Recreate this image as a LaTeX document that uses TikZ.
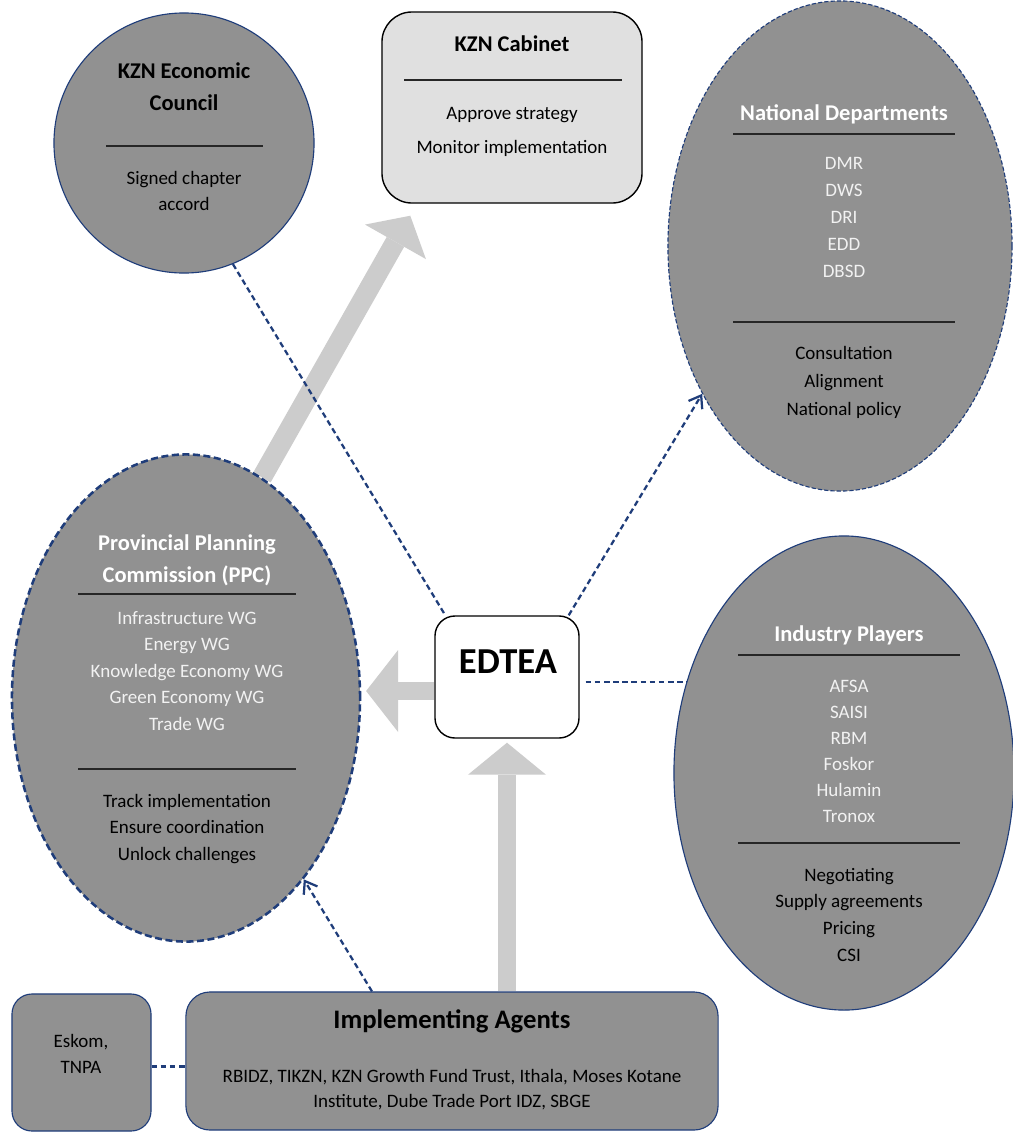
\documentclass[tikz,border=0pt]{standalone}
\usepackage{fontspec}
\setmainfont{Carlito}
\usetikzlibrary{shapes,arrows.meta,backgrounds}

\definecolor{navy}{HTML}{1F3D7A}
\definecolor{panel}{HTML}{919191}
\definecolor{pale}{HTML}{E0E0E0}
\definecolor{flowgray}{HTML}{CCCCCC}
\definecolor{ink}{HTML}{F2F2F2}

\begin{document}
\begin{tikzpicture} [x=0.025cm, y=-0.025cm,
				actor/.style={
				% The shape:
				ellipse,
				% The border:
				draw=navy, line width=0.8pt,
				% The filling:
				fill=panel, inner sep=0pt
				},
				lead/.style={
				% The shape:
				rectangle, rounded corners=0.5cm,
				% The border:
				draw=black, line width=1pt,
				% The filling:
				fill=white, inner sep=0pt
				},
				head/.style={anchor=mid, inner sep=0pt, yshift=-0.075cm, font=\bfseries\fontsize{16}{19}\selectfont},
				item/.style={anchor=mid, inner sep=0pt, yshift=-0.075cm, text=ink},
				role/.style={anchor=mid, inner sep=0pt, yshift=-0.075cm, text=black},
				rule/.style={line width=1.1pt, draw=black!85},
				link/.style={draw=navy, line width=1.6pt, dash pattern=on 4pt off 2.5pt},
				flow/.style={draw=flowgray, line width=0.45cm,
					-{Triangle[width=1.95cm, length=0.8cm, line width=0pt]}},
				>={Straight Barb[length=0.28cm, width=0.4cm]}
				]
    \tikzstyle{every node} = [font=\fontsize{13.5}{16}\selectfont]
    \useasboundingbox (0,0) rectangle (1013,1133);

    % the bodies
    \node [actor, circle, minimum size=6.5cm] (council) at (184,143) {};
    \node [lead, fill=pale, rounded corners=0.75cm, minimum width=6.5cm, minimum height=4.775cm] (cabinet) at (512,107.5) {};
    \node [actor, dash pattern=on 3pt off 1.5pt, minimum width=8.6cm, minimum height=12.25cm] (natdep) at (840,246) {};
    \node [actor, line width=1.8pt, dash pattern=on 5pt off 2.5pt, minimum width=8.7cm, minimum height=12.175cm] (ppc) at (186,698) {};
    \node [actor, minimum width=8.5cm, minimum height=11.85cm] (industry) at (844,773) {};
    \node [lead, minimum width=3.6cm, minimum height=3.05cm] (edtea) at (507,677) {};
    \node [actor, rectangle, rounded corners=0.6cm, minimum width=13.3cm, minimum height=3.45cm] (agents) at (452,1061) {};
    \node [actor, rectangle, rounded corners=0.5cm, minimum width=3.475cm, minimum height=3.425cm] (eskom) at (81.5,1062.5) {};

    % KZN Economic Council
    \node [head] (councilA) at (184,72) {KZN Economic};
    \node [head] (councilB) at (184,104) {Council};
    \draw [rule] (106,146) -- (263,146);
    \node [role] (councilC) at (184,178) {Signed chapter};
    \node [role] (councilD) at (184,204) {accord};

    % KZN Cabinet
    \node [head] (cabinetA) at (512,45) {KZN Cabinet};
    \draw [rule] (404,80) -- (622,80);
    \node [role] (cabinetB) at (512,113) {Approve strategy};
    \node [role] (cabinetC) at (512,147) {Monitor implementation};

    % National Departments
    \node [head, text=white] (natdepA) at (844,114) {National Departments};
    \draw [rule] (733,134) -- (955,134);
    \foreach \txt [count=\i] in {DMR,DWS,DRI,EDD,DBSD}
        \node [item] (natdep\i) at (844,136+27*\i) {\txt};
    \draw [rule] (733,322) -- (955,322);
    \foreach \txt [count=\i] in {Consultation,Alignment,National policy}
        \node [role] (natdepR\i) at (844,325+28*\i) {\txt};

    % Provincial Planning Commission
    \node [head, text=white] (ppcA) at (187,544) {Provincial Planning};
    \node [head, text=white] (ppcB) at (187,576) {Commission (PPC)};
    \draw [rule] (78,594) -- (296,594);
    \foreach \txt [count=\i] in {Infrastructure WG,Energy WG,Knowledge Economy WG,Green Economy WG,Trade WG}
        \node [item] (ppc\i) at (187,591.5+26.5*\i) {\txt};
    \draw [rule] (78,769) -- (296,769);
    \foreach \txt [count=\i] in {Track implementation,Ensure coordination,Unlock challenges}
        \node [role] (ppcR\i) at (187,774.5+26.5*\i) {\txt};

    % Industry Players
    \node [head, text=white] (industryA) at (849,635) {Industry Players};
    \draw [rule] (738,655) -- (960,655);
    \foreach \txt [count=\i] in {AFSA,SAISI,RBM,Foskor,Hulamin,Tronox}
        \node [item] (industry\i) at (849,660+26*\i) {\txt};
    \draw [rule] (738,843) -- (960,843);
    \foreach \txt [count=\i] in {Negotiating,Supply agreements,Pricing,CSI}
        \node [role] (industryR\i) at (849,848+26.7*\i) {\txt};

    % EDTEA and the agents
    \node [head, font=\bfseries\fontsize{26}{30}\selectfont] (edteaA) at (508,667) {EDTEA};
    \node [head, font=\bfseries\fontsize{19}{22}\selectfont] (agentsA) at (452,1022) {Implementing Agents};
    \node [role] (agentsB) at (452,1076) {RBIDZ, TIKZN, KZN Growth Fund Trust, Ithala, Moses Kotane};
    \node [role] (agentsC) at (452,1101) {Institute, Dube Trade Port IDZ, SBGE};
    \node [role] (eskomA) at (81,1041) {Eskom,};
    \node [role] (eskomB) at (81,1067) {TNPA};

    % dashed links
    \draw [link] (council.-68) -- (edtea.135);
    \draw [link, ->] (edtea.45) -- (natdep.227);
    \draw [link, shorten <=0.15cm] (edtea.east |- industry.150) -- (industry.150);
    \draw [link, ->] ([xshift=-2cm]agents.north) -- (ppc.-57);
    \draw [link] ([yshift=-0.1cm]eskom.east) -- ([yshift=-0.1cm]agents.west |- eskom.east);

    % broad grey arrows
    \begin{pgfonlayer}{background}
    \fill [white] (0,0) rectangle (1013,1133);
    \draw [flow, line width=0.5cm, -{Triangle[width=1.75cm, length=0.75cm, line width=0pt]}]
        (ppc.71) -- ([shift={(29,12)}]cabinet.south west);
    \coordinate (lt) at ([yshift=-0.35cm]edtea.west);
    \draw [flow, shorten >=0.12cm, -{Triangle[width=2.05cm, length=0.8cm, line width=0pt]}] (lt) -- (lt -| ppc.east);
    \draw [flow, shorten >=0.1cm] (edtea.south |- agents.north) -- (edtea.south);
    \end{pgfonlayer}
\end{tikzpicture}
\end{document}
